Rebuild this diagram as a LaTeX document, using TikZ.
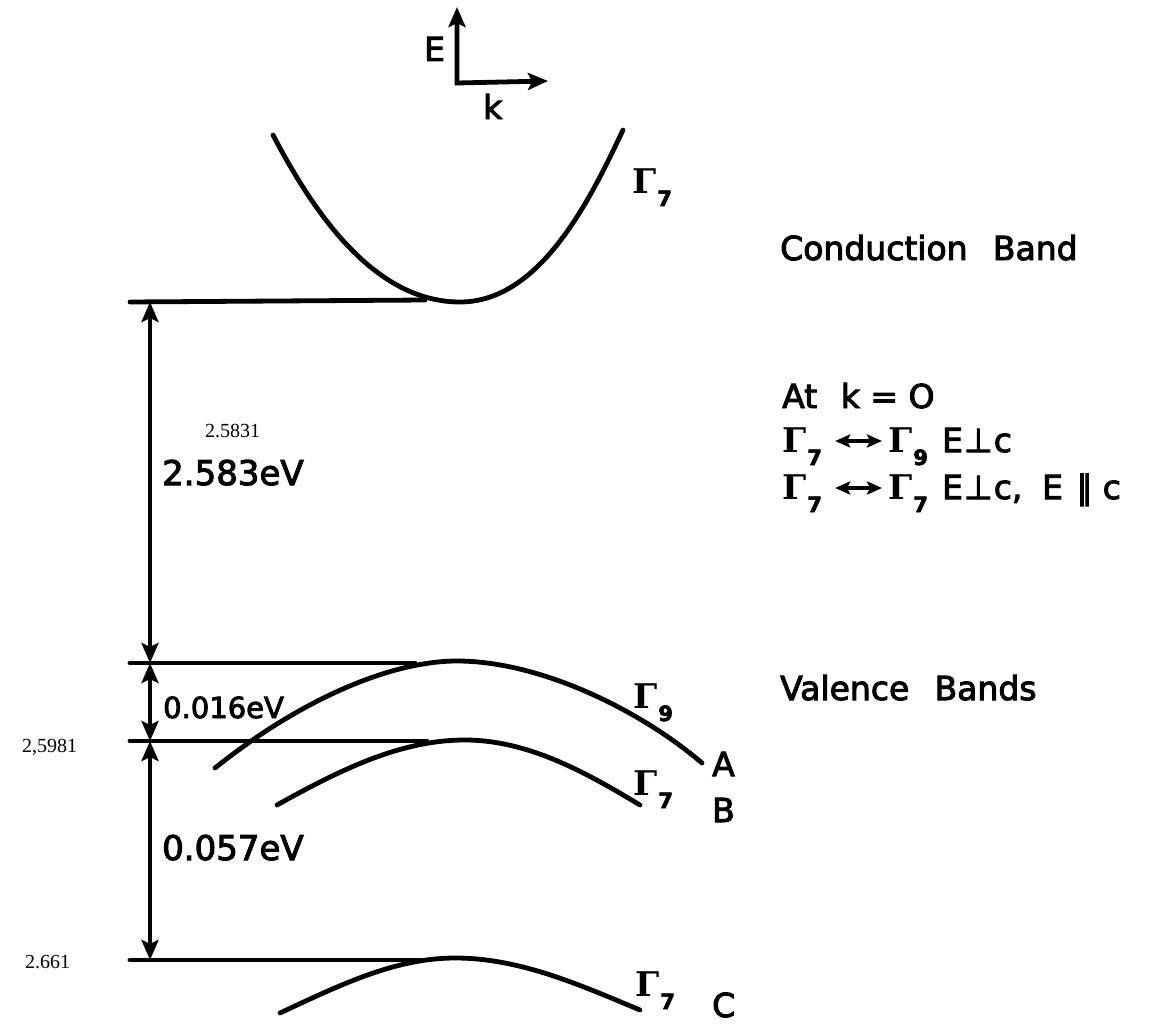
\documentclass[tikz,border=0pt]{standalone}
\usepackage{fontspec}
\setmainfont[FakeBold=3]{DejaVu Sans}
\newfontfamily\gfont{DejaVu Serif}
\newfontfamily\subfont[FakeBold=3]{DejaVu Sans}
\newfontfamily\handfont{Liberation Serif}
\usetikzlibrary{arrows.meta}
\newcommand{\Gsub}[1]{{\gfont\bfseries Γ}\kern1pt\raisebox{-13pt}{\subfont\bfseries\fontsize{21}{22}\selectfont #1}}
\tikzset{
  band/.style={line width=4.8pt, line cap=round},
  dimarrow/.style={line width=4.2pt, {Stealth[length=20pt,width=17pt,inset=4pt]}-{Stealth[length=20pt,width=17pt,inset=4pt]}},
  axisarrow/.style={line width=4.8pt, line join=miter, {Stealth[length=20pt,width=17pt,inset=4pt]}-{Stealth[length=20pt,width=17pt,inset=4pt]}},
  smallarrow/.style={line width=3.6pt, {Stealth[length=15pt,width=13pt,inset=3pt]}-{Stealth[length=15pt,width=13pt,inset=3pt]}},
  lbl/.style={anchor=base west, inner sep=0pt, font=\fontsize{33}{38}\selectfont},
  glbl/.style={anchor=base west, inner sep=0pt, font=\fontsize{34}{38}\selectfont},
  hand/.style={anchor=base west, inner sep=0pt, font=\handfont\fontsize{20}{22}\selectfont},
}
\begin{document}
\begin{tikzpicture}[x=1pt,y=-1pt]
\useasboundingbox[fill=white] (0,0) rectangle (1160,1025);

% E-k axes
\coordinate (eup) at (457,7);
\coordinate (orig) at (457,83);
\coordinate (kright) at (548,81);
\draw[axisarrow] (eup) -- (orig) -- (kright);
\node[lbl] (Elab) at (424,61) {E};
\node[lbl] (klab) at (483,119) {k};

% conduction band
\draw[band] (273,135) .. controls (320,225) and (380,302) .. (460,302)
            .. controls (540,302) and (590,200) .. (623,130);
\draw[band] (130,302) -- (425,300);
\node[glbl] (gc) at (632,193) {\Gsub{7}};

% valence band A
\draw[band] (215,768) .. controls (300,700) and (390,661) .. (457,661)
            .. controls (540,661) and (640,710) .. (702,763);
\draw[band] (130,663) -- (415,663);
\node[glbl] (ga) at (633,708) {\Gsub{9}};
\node[lbl] (A) at (712,776) {A};

% valence band B
\draw[band] (277,805) .. controls (340,770) and (400,740) .. (465,740)
            .. controls (530,740) and (590,775) .. (640,805);
\draw[band] (130,741) -- (427,741);
\node[glbl] (gb) at (633,795) {\Gsub{7}};
\node[lbl] (B) at (712,822) {B};

% valence band C
\draw[band] (280,1013) .. controls (340,985) and (395,958) .. (455,958)
            .. controls (520,958) and (580,985) .. (640,1010);
\draw[band] (130,960) -- (420,960);
\node[glbl] (gcc) at (635,996) {\Gsub{7}};
\node[lbl] (C) at (712,1017) {C};

% energy separations
\coordinate (lvc) at (150,302);
\coordinate (lva) at (150,663);
\coordinate (lvb) at (150,741);
\coordinate (lvcc) at (150,960);
\draw[dimarrow] (lvc) -- (lva);
\draw[dimarrow] (lva) -- (lvb);
\draw[dimarrow] (lvb) -- (lvcc);
\node[lbl, font=\fontsize{34}{38}\selectfont] (gap) at (162,485) {2.583eV};
\node[lbl, font=\fontsize{29}{34}\selectfont] (d1) at (163,718) {0.016eV};
\node[lbl, font=\fontsize{34}{38}\selectfont] (d2) at (162,860) {0.057eV};

% handwritten values
\node[hand] (h1) at (205,437) {2.5831};
\node[hand] (h2) at (22,752) {2,5981};
\node[hand] (h3) at (25,968) {2.661};

% right-hand text
\node[lbl] (cb) at (780,260) {Conduction\hspace{0.45em} Band};
\node[lbl] (atk) at (782,408) {At\hspace{0.4em} k = O};
\node[glbl] (r2a) at (782,452) {\Gsub{7}};
\node[glbl] (r2b) at (888,452) {\Gsub{9}};
\node[lbl] (r2c) at (942,452) {E\kern1pt⊥\kern1pt c};
\draw[smallarrow] ([xshift=13pt,yshift=11pt]r2a.base east) -- ([xshift=-6pt,yshift=11pt]r2b.base west);
\node[glbl] (r3a) at (782,499) {\Gsub{7}};
\node[glbl] (r3b) at (888,499) {\Gsub{7}};
\node[lbl] (r3c) at (942,499) {E\kern1pt⊥\kern1pt c,\hspace{0.6em}E\hspace{0.4em}∥\hspace{0.3em}c};
\draw[smallarrow] ([xshift=13pt,yshift=11pt]r3a.base east) -- ([xshift=-6pt,yshift=11pt]r3b.base west);
\node[lbl] (vb) at (780,700) {Valence\hspace{0.45em} Bands};
\end{tikzpicture}
\end{document}
